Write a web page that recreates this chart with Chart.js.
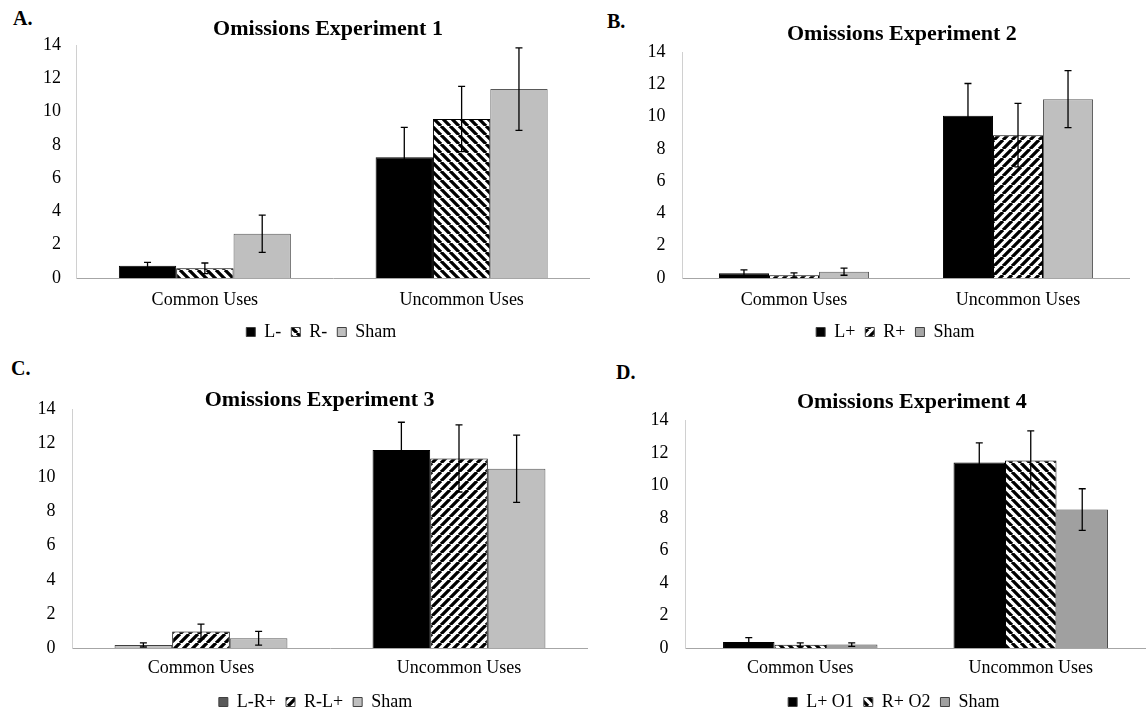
<!DOCTYPE html>
<html>
<head>
<meta charset="utf-8">
<title>Omissions Experiments 1-4</title>
<script src="https://cdn.jsdelivr.net/npm/chart.js@4.4.1/dist/chart.umd.min.js"></script>
<style>
  html, body { margin: 0; padding: 0; background: #fff; overflow: hidden; }
  .panel { position: absolute; }
  .letter { position: absolute; font: bold 20px "Liberation Serif", "Times New Roman", serif; line-height: 20px; color: #000; }
</style>
</head>
<body>
<div class="letter" style="left:13px;top:8px">A.</div>
<div class="letter" style="left:607px;top:11px">B.</div>
<div class="letter" style="left:11px;top:358px">C.</div>
<div class="letter" style="left:616px;top:362px">D.</div>

<div class="panel" style="left:0px;top:18px;width:590px;height:333px"><canvas id="chartA"></canvas></div>
<div class="panel" style="left:580px;top:23px;width:550px;height:328px"><canvas id="chartB"></canvas></div>
<div class="panel" style="left:0px;top:382px;width:588px;height:339px"><canvas id="chartC"></canvas></div>
<div class="panel" style="left:580px;top:391px;width:566px;height:330px"><canvas id="chartD"></canvas></div>

<script>
const categories = ["Common Uses", "Uncommon Uses"];
const yTicks = [0, 2, 4, 6, 8, 10, 12, 14];

// Experiment 1
const e1Names = ["L-", "R-", "Sham"];
const e1Left = [0.74, 7.25],  e1LeftErr = [0.2, 1.8];
const e1Right = [0.58, 9.55], e1RightErr = [0.32, 1.96];
const e1Sham = [2.66, 11.35], e1ShamErr = [1.12, 2.48];

// Experiment 2
const e2Names = ["L+", "R+", "Sham"];
const e2Left = [0.3, 10.05],  e2LeftErr = [0.2, 2.0];
const e2Right = [0.17, 8.85], e2RightErr = [0.15, 1.97];
const e2Sham = [0.39, 11.08], e2ShamErr = [0.22, 1.77];

// Experiment 3
const e3Names = ["L-R+", "R-L+", "Sham"];
const e3Left = [0.18, 11.62], e3LeftErr = [0.12, 1.62];
const e3Right = [0.97, 11.12], e3RightErr = [0.43, 1.97];
const e3Sham = [0.57, 10.51], e3ShamErr = [0.4, 1.97];

// Experiment 4
const e4Names = ["L+ O1", "R+ O2", "Sham"];
const e4Left = [0.37, 11.43], e4LeftErr = [0.27, 1.2];
const e4Right = [0.2, 11.55], e4RightErr = [0.11, 1.82];
const e4Sham = [0.21, 8.53],  e4ShamErr = [0.11, 1.28];

Chart.defaults.font.family = "'Liberation Serif', 'Times New Roman', serif";
Chart.defaults.color = "#000";

function stripes(ctx, dir) {
    const size = 9;
    const c = document.createElement("canvas");
    c.width = size; c.height = size;
    const g = c.getContext("2d");
    g.fillStyle = "#fff";
    g.fillRect(0, 0, size, size);
    g.strokeStyle = "#000";
    g.lineWidth = 3.3;
    g.beginPath();
    for (let k = -size; k <= size; k += size) {
        if (dir === "\\") { g.moveTo(k, 0); g.lineTo(k + size, size); }
        else { g.moveTo(k, size); g.lineTo(k + size, 0); }
    }
    g.stroke();
    return ctx.createPattern(c, "repeat");
}

const errorBars = {
    id: "errorBars",
    afterDatasetsDraw(chart) {
        const ctx = chart.ctx, y = chart.scales.y;
        ctx.save();
        ctx.strokeStyle = "#000";
        ctx.lineWidth = 1.3;
        chart.data.datasets.forEach((ds, i) => {
            chart.getDatasetMeta(i).data.forEach((bar, j) => {
                const top = y.getPixelForValue(ds.data[j] + ds.errors[j]);
                const bot = y.getPixelForValue(ds.data[j] - ds.errors[j]);
                ctx.beginPath();
                ctx.moveTo(bar.x, top); ctx.lineTo(bar.x, bot);
                ctx.moveTo(bar.x - 3.5, top); ctx.lineTo(bar.x + 3.5, top);
                ctx.moveTo(bar.x - 3.5, bot); ctx.lineTo(bar.x + 3.5, bot);
                ctx.stroke();
            });
        });
        ctx.restore();
    }
};

// title and legend are not centred on the plot in the original, so move them
const boxCentre = {
    id: "boxCentre",
    afterLayout(chart, args, opts) {
        [[chart.titleBlock, opts.titleX], [chart.legend, opts.legendX]].forEach(([box, x]) => {
            if (!box || x === undefined) return;
            const dx = x - (box.left + box.right) / 2;
            box.left += dx;
            box.right += dx;
        });
    }
};

function drawPanel(id, title, names, means, errs, fills, borders, legendFills, geo) {
    const canvas = document.getElementById(id);
    if (!canvas) { console.error("missing #" + id); return; }
    const datasets = names.map((n, i) => ({
        label: n,
        data: means[i],
        errors: errs[i],
        backgroundColor: fills[i],
        borderColor: borders[i],
        borderWidth: 1,
        categoryPercentage: 0.67,
        barPercentage: 1
    }));
    new Chart(canvas, {
        type: "bar",
        data: { labels: categories, datasets: datasets },
        plugins: [errorBars, boxCentre],
        options: {
            responsive: true,
            maintainAspectRatio: false,
            animation: false,
            layout: { padding: { left: geo.pl, right: 0, top: 0, bottom: 0 } },
            plugins: {
                title: {
                    display: true,
                    text: title,
                    color: "#000",
                    font: { size: 22, weight: "bold", lineHeight: 1 },
                    padding: { top: 0, bottom: geo.titleGap }
                },
                legend: {
                    position: "bottom",
                    labels: {
                        boxWidth: 9,
                        boxHeight: 9,
                        padding: 10,
                        color: "#000",
                        font: { size: 18 },
                        generateLabels: chart => Chart.defaults.plugins.legend.labels.generateLabels(chart)
                            .map((item, i) => Object.assign(item, { fillStyle: legendFills[i], strokeStyle: "#404040", lineWidth: 1 }))
                    }
                },
                boxCentre: { titleX: geo.titleX, legendX: geo.legendX },
                tooltip: { enabled: false }
            },
            scales: {
                x: {
                    grid: { display: false, drawTicks: false },
                    border: { color: "#a6a6a6", width: 1 },
                    ticks: { padding: geo.labelPad, color: "#000", font: { size: 18 } },
                    afterFit: s => { s.height = 35; }
                },
                y: {
                    min: 0,
                    max: 14,
                    grid: { display: false, drawTicks: false },
                    border: { color: "#d0d0d0", width: 1 },
                    ticks: { padding: geo.tickPad, color: "#000", font: { size: 18 } },
                    afterBuildTicks: s => { s.ticks = yTicks.map(v => ({ value: v })); },
                    afterFit: s => { s.width = 60; }
                }
            }
        }
    });
}

const black = "#000000";
const sham = "#bfbfbf";
const shamDark = "#a0a0a0";

const ctxA = document.getElementById("chartA").getContext("2d");
const ctxB = document.getElementById("chartB").getContext("2d");
const ctxC = document.getElementById("chartC").getContext("2d");
const ctxD = document.getElementById("chartD").getContext("2d");

const fillsA = [black, stripes(ctxA, "\\"), sham];
drawPanel("chartA", "Omissions Experiment 1", e1Names,
    [e1Left, e1Right, e1Sham], [e1LeftErr, e1RightErr, e1ShamErr],
    fillsA, [black, black, "#595959"], fillsA,
    { pl: 16.5, tickPad: 15.5, titleGap: 5, labelPad: 11.2, titleX: 328, legendX: 321.3 });

const fillsB = [black, stripes(ctxB, "/"), sham];
drawPanel("chartB", "Omissions Experiment 2", e2Names,
    [e2Left, e2Right, e2Sham], [e2LeftErr, e2RightErr, e2ShamErr],
    fillsB, [black, black, "#595959"], [black, fillsB[1], "#a6a6a6"],
    { pl: 42, tickPad: 16.5, titleGap: 7, labelPad: 11.2, titleX: 321.9, legendX: 315.3 });

const fillsC = [["#c0c0c0", black], stripes(ctxC, "/"), sham];
drawPanel("chartC", "Omissions Experiment 3", e3Names,
    [e3Left, e3Right, e3Sham], [e3LeftErr, e3RightErr, e3ShamErr],
    fillsC, [["#404040", black], black, "#595959"], ["#595959", fillsC[1], sham],
    { pl: 12, tickPad: 16.5, titleGap: -2.3, labelPad: 9.5, titleX: 319.6, legendX: 315.5 });

const fillsD = [black, stripes(ctxD, "\\"), shamDark];
drawPanel("chartD", "Omissions Experiment 4", e4Names,
    [e4Left, e4Right, e4Sham], [e4LeftErr, e4RightErr, e4ShamErr],
    fillsD, [black, black, "#404040"], fillsD,
    { pl: 45, tickPad: 16.4, titleGap: 7.7, labelPad: 9.5, titleX: 331.8, legendX: 313.8 });
</script>
</body>
</html>
